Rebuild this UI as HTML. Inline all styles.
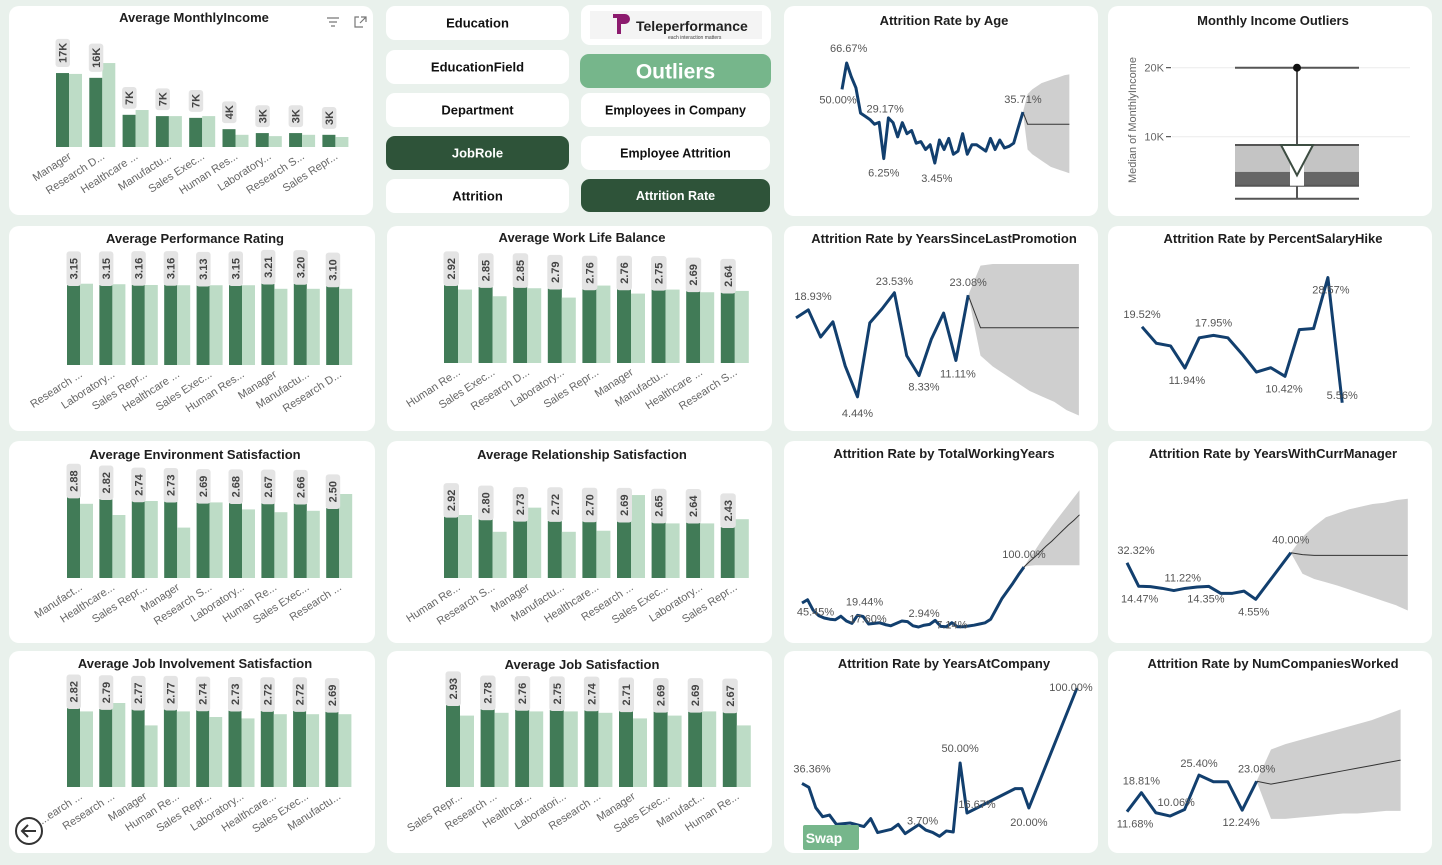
<!DOCTYPE html>
<html><head><meta charset="utf-8">
<style>
html,body{margin:0;padding:0;background:#e9f1ec;}
svg{display:block;font-family:"Liberation Sans",sans-serif;}
.t{font-weight:bold;font-size:13px;fill:#1e1e1e;text-anchor:middle;}
.btn{font-weight:bold;text-anchor:middle;}
.ax{font-size:11px;fill:#666;}
.lbl{font-size:11px;fill:#555;}
</style></head>
<body>
<svg id="dash" width="1442" height="865" viewBox="0 0 1442 865">
<rect x="0" y="0" width="1442" height="865" fill="#e9f1ec"/>
<g id="panels"></g>
<g id="content"></g>
</svg>
<script>
// ===== bar chart data =====
const incCats=["Manager","Research D...","Healthcare ...","Manufactu...","Sales Exec...","Human Res...","Laboratory...","Research S...","Sales Repr..."];
const incDark=[17.0,15.9,7.4,7.1,6.7,4.1,3.2,3.2,2.8];
const incLight=[16.8,19.3,8.5,7.1,7.1,2.8,2.5,2.8,2.3];
const perfCats=["Research ...","Laboratory...","Sales Repr...","Healthcare ...","Sales Exec...","Human Res...","Manager","Manufactu...","Research D..."];
const perfDark=[3.15,3.15,3.16,3.16,3.13,3.15,3.21,3.20,3.10];
const perfLight=[3.2,3.18,3.15,3.14,3.14,3.14,3.0,3.0,3.0];
const wlbCats=["Human Re...","Sales Exec...","Research D...","Laboratory...","Sales Repr...","Manager","Manufactu...","Healthcare ...","Research S..."];
const wlbDark=[2.92,2.85,2.85,2.79,2.76,2.76,2.75,2.69,2.64];
const wlbLight=[2.75,2.5,2.8,2.45,2.9,2.6,2.75,2.65,2.7];
const envCats=["Manufact...","Healthcare...","Sales Repr...","Manager","Research S...","Laboratory...","Human Re...","Sales Exec...","Research ..."];
const envDark=[2.88,2.82,2.74,2.73,2.69,2.68,2.67,2.66,2.50];
const envLight=[2.65,2.25,2.75,1.8,2.7,2.45,2.35,2.4,3.0];
const relCats=["Human Re...","Research S...","Manager","Manufactu...","Healthcare...","Research ...","Sales Exec...","Laboratory...","Sales Repr..."];
const relDark=[2.92,2.80,2.73,2.72,2.70,2.69,2.65,2.64,2.43];
const relLight=[3.0,2.2,3.35,2.2,2.25,3.95,2.6,2.6,2.8];
const jiCats=["...earch ...","Research ...","Manager","Human Re...","Sales Repr...","Laboratory...","Healthcare...","Sales Exec...","Manufactu..."];
const jiDark=[2.82,2.79,2.77,2.77,2.74,2.73,2.72,2.72,2.69];
const jiLight=[2.7,3.0,2.2,2.7,2.5,2.45,2.6,2.6,2.6];
const jsCats=["Sales Repr...","Research ...","Healthcar...","Laboratori...","Research ...","Manager","Sales Exec...","Manufact...","Human Re..."];
const jsDark=[2.93,2.78,2.76,2.75,2.74,2.71,2.69,2.69,2.67];
const jsLight=[2.55,2.65,2.7,2.7,2.65,2.45,2.55,2.7,2.2];

// ===== line chart data =====
const ageX=[0,1,2,3,4,5,6,7,8,9,10,11,12,13,14,15,16,17,18,19,20,21,22,23,24,25,26,27,28,29,30,31,32,33,34,35,36,37,38,39];
const ageRate=[50,66.67,58,51,35,33,31,28,29.17,6.25,32,29,20,29,22,24,16,17,12,15,3.45,18,12,19,9,11,22,9,15,15,13,11,19,12,18,13,14,16,26,35.71];
const ageLabelIdx=[1,0,8,9,20,39];
const ageFMean=[28,28,28,28,28,28,28,28,28,28];
const ageFUp=[47,50,52,54,55,56,57,58,59,59.5];
const ageFLo=[12,9,7,5,3,1,0,-1,-2,-3];

const promoX=[0,1,2,3,4,5,6,7,8,9,10,11,12,13,14];
const promoRate=[18.93,20.4,15.4,18.2,10.1,4.44,18.0,20.6,23.53,12.0,8.33,15.0,19.8,11.11,23.08];
const promoLabelIdx=[0,5,8,10,13,14];
const promoFMean=[17.1,17.1,17.1,17.1,17.1,17.1,17.1,17.1,17.1];
const promoFUp=[28.5,28.8,28.8,28.8,28.8,28.8,28.8,28.8,28.8];
const promoFLo=[12,10,8.5,7,5.5,4.5,3.5,2,1];

const hikeX=[0,1,2,3,4,5,6,7,8,9,10,11,12,13,14];
const hikeRate=[19.52,16.5,16,11.94,17.5,17.95,17.5,14.5,11.2,12,10.42,19,19.2,28.57,5.56];
const hikeLabelIdx=[0,3,5,10,13,14];

const twyX=[0,1,2,3,4,5,6,7,8,9,10,11,12,13,14,15,16,17,18,19,20,21,22,23,24,25,26,27,28,29,30,31,32,33,34,35,36,37,38,39,40];
const twyRate=[40,45.45,28,19,15,13,12,18,10,6,19.44,17.6,5,6,7,4,2,6,10,9,2,0,2.94,4.4,11,1,0.5,7.14,0.5,0.5,1.7,3,5,7,13,30,47,60,73,87,100];
const twyLabelIdx=[1,10,11,22,27,40];
const twyFMean=[109,117,126,135,143,152,161,170,178,187];
const twyFUp=[115,128,142,155,168,180,192,204,216,228];
const twyFLo=[102,103,103,103,103,103,103,103,103,103];

const yacX=[0,1,2,3,4,5,7,9,10,11,13,14,15,17,18,19,20,21,22,23,24,31,32,33,40];
const yacRate=[36.36,33.8,20.2,14.2,15.3,9.1,10,7.6,12.9,3.6,5.8,9.1,2.9,8.9,5.3,3.7,1.1,4.7,4,50,16.67,32.9,32.9,20,100];
const yacLabelIdx=[0,19,20,15,23,24];

const mgrX=[0,1,2,3,4,5,6,7,8,9,10,11,14];
const mgrRate=[32.32,14.47,14.2,12.9,11.22,12.9,13.9,14.35,9.1,9.1,10.8,4.55,40];
const mgrLabelIdx=[0,1,4,7,11,12];
const mgrFMean=[38.5,38,38,38,38,38,38,38,38,38];
const mgrFUp=[52,60,67,70,73,75,77,78,80,81];
const mgrFLo=[24,20,17.5,15,12,9,6,3,0,-4];

const ncwX=[0,1,2,3,4,5,6,7,8,9];
const ncwRate=[11.68,18.81,11.3,10.06,12.5,25.4,22.9,22.9,12.24,23.08];
const ncwLabelIdx=[0,1,3,5,8,9];
const ncwFMean=[22,23,24,25,26,27,28,29,30,31];
const ncwFUp=[35,37,38.5,40,41.5,43,44.5,46,48,50];
const ncwFLo=[9,9,9.5,10,10.5,11,11,11.5,12,12];

// ===== helpers =====
const NS="http://www.w3.org/2000/svg";
const panelsG=document.getElementById('panels');
const contentG=document.getElementById('content');
function mk(tag,attrs,parent){const e=document.createElementNS(NS,tag);for(const k in attrs)e.setAttribute(k,attrs[k]);(parent||contentG).appendChild(e);return e;}
function slug(s){return s.toLowerCase().replace(/[^a-z0-9]+/g,'-').replace(/^-|-$/g,'');}

// panels
const panels=[
 [9,6,364,209,"Average MonthlyIncome",194,22],
 [784,6,314,210,"Attrition Rate by Age",944,25],
 [1108,6,324,210,"Monthly Income Outliers",1273,25],
 [9,226,366,205,"Average Performance Rating",195,243],
 [387,226,385,205,"Average Work Life Balance",582,242],
 [784,226,314,205,"Attrition Rate by YearsSinceLastPromotion",944,243],
 [1108,226,324,205,"Attrition Rate by PercentSalaryHike",1273,243],
 [9,441,366,202,"Average Environment Satisfaction",195,459],
 [387,441,385,202,"Average Relationship Satisfaction",582,459],
 [784,441,314,202,"Attrition Rate by TotalWorkingYears",944,458],
 [1108,441,324,202,"Attrition Rate by YearsWithCurrManager",1273,458],
 [9,651,366,202,"Average Job Involvement Satisfaction",195,668],
 [387,651,385,202,"Average Job Satisfaction",582,669],
 [784,651,314,202,"Attrition Rate by YearsAtCompany",944,668],
 [1108,651,324,202,"Attrition Rate by NumCompaniesWorked",1273,668]
];
panels.forEach(p=>{
 const r=mk('rect',{x:p[0],y:p[1],width:p[2],height:p[3],rx:10,fill:'#ffffff'},panelsG);
 
 
 const t=mk('text',{x:p[5],y:p[6],class:'t'});
 t.textContent=p[4];
 
 
});

// buttons
const buttons=[
 [386,6,183,34,"Education","#fff","#111",13],
 [386,50,183,34,"EducationField","#fff","#111",13],
 [386,93,183,34,"Department","#fff","#111",13],
 [386,136,183,34,"JobRole","#2e5339","#fff",13],
 [386,179,183,34,"Attrition","#fff","#111",13],
 [581,93,189,34,"Employees in Company","#fff","#111",12.5],
 [581,136,189,34,"Employee Attrition","#fff","#111",12.5],
 [581,179,189,33,"Attrition Rate","#2e5339","#fff",12.5],
 [580,54,191,34,"Outliers","#76b68b","#fff",21]
];
buttons.forEach(b=>{
 const r=mk('rect',{x:b[0],y:b[1],width:b[2],height:b[3],rx:9,fill:b[5]});
 
 
 const t=mk('text',{x:b[0]+b[2]/2,y:b[1]+b[3]/2+b[7]*0.36,class:'btn',fill:b[6],style:'font-size:'+b[7]+'px'});
 t.textContent=b[4];
 
 
});
// logo
const lg=mk('rect',{x:581,y:5,width:190,height:40,rx:9,fill:'#fff'});


const lgi=mk('rect',{x:590,y:11,width:172,height:28,fill:'#f4f4f4'});


const lgT=mk('path',{d:'M613 14 h12 a5 5 0 0 1 0 10 h-4 v10 h-4 v-16 h-4z',fill:'#8c1b6e'});


const lgt=mk('text',{x:636,y:31,'font-size':14,'font-weight':'bold',fill:'#222'});
lgt.textContent='Teleperformance';


const lgs=mk('text',{x:668,y:39,'font-size':5,fill:'#444'});
lgs.textContent='each interaction matters';



// icons in first panel
const ic1=mk('path',{d:'M327 18h12M329 22h8M331 26h4',stroke:'#777','stroke-width':1.2,fill:'none'});


const ic2=mk('path',{d:'M361 17h5v5M366 17l-6 6M363 27h-8v-10h4',stroke:'#777','stroke-width':1.2,fill:'none'});



// ===== bar charts =====
function barChart(name,cats,dark,light,cfg,fmt){
 const xb=i=>cfg.x0+i*cfg.step;
 const yv=v=>cfg.base-v*cfg.k;
 cats.forEach((c,i)=>{
  const d=mk('rect',{x:xb(i),y:yv(dark[i]),width:cfg.bw,height:cfg.base-yv(dark[i]),fill:'#417b57'});
  
  
  const l=mk('rect',{x:xb(i)+cfg.bw,y:yv(light[i]),width:cfg.bw,height:cfg.base-yv(light[i]),fill:'#bddcc6'});
  
  
  const txt=fmt(dark[i]);
  const h=txt.length*6.4+9;
  const top=yv(dark[i])-h-cfg.gap;
  const b=mk('rect',{x:xb(i)-0.5,y:top,width:cfg.bw+1.5,height:h,rx:3,fill:'#e4e4e4'});
  
  
  const cx=xb(i)+cfg.bw/2+4,cy=top+h/2;
  const t=mk('text',{x:cx,y:cy,'font-size':11,'font-weight':'bold',fill:'#444','text-anchor':'middle',transform:'rotate(-90 '+cx+' '+cy+')'});
  t.textContent=txt;
  
  
  const ax=xb(i)+cfg.bw+3,ay=cfg.base+11;
  const a=mk('text',{x:ax,y:ay,class:'ax','text-anchor':'end',transform:'rotate(-33 '+ax+' '+ay+')'});
  a.textContent=c;
  
  
 });
}
const f2=v=>v.toFixed(2), fk=v=>Math.round(v)+'K';
barChart('monthly-income',incCats,incDark,incLight,{x0:56,step:33.3,bw:13,base:147,k:4.35,gap:6},fk);
barChart('performance-rating',perfCats,perfDark,perfLight,{x0:67,step:32.4,bw:13,base:365,k:25.4,gap:-1},f2);
barChart('work-life-balance',wlbCats,wlbDark,wlbLight,{x0:444,step:34.6,bw:14,base:363,k:26.7,gap:-1},f2);
barChart('environment-satisfaction',envCats,envDark,envLight,{x0:67,step:32.4,bw:13,base:578,k:28,gap:-1},f2);
barChart('relationship-satisfaction',relCats,relDark,relLight,{x0:444,step:34.6,bw:14,base:578,k:21,gap:-1},f2);
barChart('job-involvement',jiCats,jiDark,jiLight,{x0:67,step:32.3,bw:13,base:787,k:28,gap:-1},f2);
barChart('job-satisfaction',jsCats,jsDark,jsLight,{x0:446,step:34.6,bw:14,base:787,k:28,gap:-1},f2);

// ===== line charts =====
function lineChart(name,xs,vals,labelIdx,cfg,fm,fu,fl){
 const xp=x=>cfg.x0+x*cfg.step;
 const yp=v=>cfg.y0-v*cfg.k;
 const lastX=xs[xs.length-1],lastV=vals[vals.length-1];
 if(fm){
  let up=[[xp(lastX),yp(lastV)]],lo=[];
  fu.forEach((v,i)=>up.push([xp(lastX+i+1),yp(v)]));
  fl.forEach((v,i)=>lo.push([xp(lastX+i+1),yp(v)]));
  const pts=up.concat(lo.reverse()).map(p=>p.join(',')).join(' ');
  const cone=mk('polygon',{points:pts,fill:'#cfcfcf'});
  
  
  let mp=[[xp(lastX),yp(lastV)]];
  fm.forEach((v,i)=>mp.push([xp(lastX+i+1),yp(v)]));
  const ml=mk('polyline',{points:mp.map(p=>p.join(',')).join(' '),fill:'none',stroke:'#333','stroke-width':1});
  
  
 }
 const pts=xs.map((x,i)=>xp(x)+','+yp(vals[i])).join(' ');
 const pl=mk('polyline',{points:pts,fill:'none',stroke:'#123f6e','stroke-width':3,'stroke-linejoin':'round'});
 
 
 labelIdx.forEach((idx,j)=>{
  const o=cfg.off[j];
  const t=mk('text',{x:xp(xs[idx])+o[0],y:yp(vals[idx])+o[1],class:'lbl','text-anchor':'middle'});
  t.textContent=vals[idx].toFixed(2)+'%';
  
  
 });
}
lineChart('age',ageX,ageRate,ageLabelIdx,{x0:842,step:4.64,y0:168.5,k:1.582,off:[[2,-11],[-4,14],[6,-10],[0,18],[2,19],[0,-9]]},ageFMean,ageFUp,ageFLo);
lineChart('promotion',promoX,promoRate,promoLabelIdx,{x0:796,step:12.3,y0:421,k:5.45,off:[[17,-18],[0,20],[0,-8],[5,15],[2,17],[0,-9]]},promoFMean,promoFUp,promoFLo);
lineChart('salary-hike',hikeX,hikeRate,hikeLabelIdx,{x0:1142,step:14.3,y0:433,k:5.44,off:[[0,-9],[2,16],[0,-9],[-1,16],[3,16],[0,-4]]});
lineChart('total-working-years',twyX,twyRate,twyLabelIdx,{x0:802,step:5.55,y0:627,k:0.6,off:[[8,16],[7,-10],[5,6],[0,-8],[0,6],[0,-9]]},twyFMean,twyFUp,twyFLo);
lineChart('years-at-company',yacX,yacRate,yacLabelIdx,{x0:802,step:6.875,y0:838,k:1.5,off:[[10,-11],[0,-11],[10,-5],[-10,-8],[0,18],[-6,3]]});
lineChart('years-with-curr-manager',mgrX,mgrRate,mgrLabelIdx,{x0:1127,step:11.7,y0:605.3,k:1.315,off:[[9,-9],[1,16],[9,-9],[-3,16],[-2,16],[0,-9]]},mgrFMean,mgrFUp,mgrFLo);
lineChart('num-companies-worked',ncwX,ncwRate,ncwLabelIdx,{x0:1127,step:14.4,y0:842.9,k:2.67,off:[[8,16],[0,-8],[6,-10],[0,-8],[-1,16],[0,-9]]},ncwFMean,ncwFUp,ncwFLo);

// ===== box plot =====
const boxTicks=[20,10];
const boxStats={max:20,q3:8.8,median:4.4,q1:2.9,min:1.0,notchLo:4.4};
(function(){
 const y=v=>136.7-(v-10)*6.9;
 boxTicks.forEach(v=>{
  const g=mk('line',{x1:1172,x2:1410,y1:y(v),y2:y(v),stroke:'#ececec','stroke-width':1});
  
  
  const tk=mk('line',{x1:1166,x2:1171,y1:y(v),y2:y(v),stroke:'#333','stroke-width':1});
  
  
  const t=mk('text',{x:1164,y:y(v)+4,class:'ax','text-anchor':'end','font-size':12});
  t.textContent=v+'K';
  
  
 });
 const yl=mk('text',{x:1136,y:120,class:'ax','text-anchor':'middle','font-size':11.5,transform:'rotate(-90 1136 120)'});
 yl.textContent='Median of MonthlyIncome';
 
 
 const bl=mk('rect',{x:1235,y:y(boxStats.q3),width:124,height:y(4.9)-y(boxStats.q3),fill:'#c4c4c4'});
 
 
 const bd=mk('rect',{x:1235,y:y(4.9),width:124,height:y(boxStats.q1)-y(4.9),fill:'#666'});
 
 
 [[boxStats.max],[boxStats.q3],[boxStats.q1],[boxStats.min]].forEach((v,i)=>{
  const l=mk('line',{x1:1235,x2:1359,y1:y(v[0]),y2:y(v[0]),stroke:'#555','stroke-width':2});
  
  
 });
 const w1=mk('line',{x1:1297,x2:1297,y1:y(boxStats.max),y2:y(boxStats.q3),stroke:'#555','stroke-width':2});
 
 
 const w2=mk('line',{x1:1297,x2:1297,y1:y(boxStats.q1),y2:y(boxStats.min),stroke:'#555','stroke-width':2});
 
 
 const wr=mk('rect',{x:1290,y:y(boxStats.q3),width:14,height:y(boxStats.q1)-y(boxStats.q3),fill:'#fff'});
 
 
 const tri=mk('polygon',{points:'1281,'+y(boxStats.q3)+' 1313,'+y(boxStats.q3)+' 1297,'+y(boxStats.notchLo),fill:'#fff',stroke:'#3d4d42','stroke-width':2});
 
 
 const dot=mk('circle',{cx:1297,cy:y(boxStats.max),r:4,fill:'#111'});
 
 
})();

// swap & back
const sw=mk('rect',{x:803,y:825,width:56,height:25,rx:2,fill:'#76b68b'});


const swt=mk('text',{x:824,y:843,'font-size':14,'font-weight':'bold',fill:'#fff','text-anchor':'middle'});
swt.textContent='Swap';


const bk=mk('circle',{cx:29,cy:831,r:13,fill:'#fff',stroke:'#333','stroke-width':2});


const ba=mk('path',{d:'M36 831h-14M28 825l-6 6 6 6',fill:'none',stroke:'#333','stroke-width':2});


</script>
</body></html>
